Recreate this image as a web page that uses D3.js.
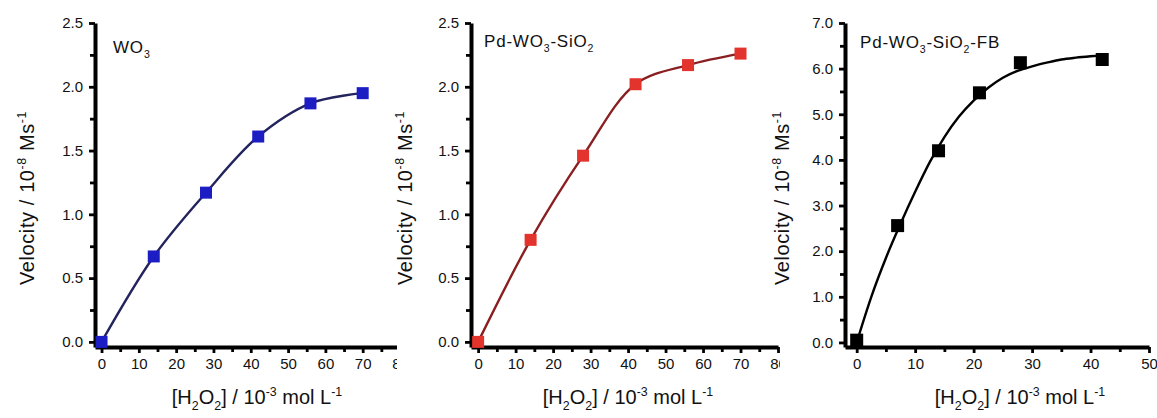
<!DOCTYPE html>
<html>
<head>
<meta charset="utf-8">
<script src="https://cdn.jsdelivr.net/npm/d3@7"></script>
<style>
  body { margin: 0; background: #fff; }
  text { font-family: "Liberation Sans", Arial, sans-serif; }
</style>
</head>
<body>
<script>
const W = 1157, H = 418;

// WO3
const wo3X = [0, 14, 28, 42, 56, 70];
const wo3Y = [0.0, 0.67, 1.17, 1.61, 1.87, 1.95];

// Pd-WO3-SiO2
const pdX = [0, 14, 28, 42, 56, 70];
const pdY = [0.0, 0.80, 1.46, 2.02, 2.17, 2.26];

// Pd-WO3-SiO2-FB (points + fitted curve)
const fbX = [0, 7, 14, 21, 28, 42];
const fbY = [0.05, 2.56, 4.20, 5.47, 6.13, 6.20];
const fbFitX = [0, 2.5, 5, 7.5, 10, 12.5, 15, 17.5, 20, 22.5, 25, 27.5, 30, 32.5, 35, 37.5, 40, 42];
const fbFitY = [0.0, 1.0, 1.85, 2.6, 3.3, 3.95, 4.5, 4.95, 5.3, 5.58, 5.8, 5.95, 6.05, 6.13, 6.2, 6.24, 6.27, 6.29];

// ticks
const xTicks80 = [0, 10, 20, 30, 40, 50, 60, 70, 80];
const xMinor80 = [5, 15, 25, 35, 45, 55, 65, 75];
const xTicks50 = [0, 10, 20, 30, 40, 50];
const xMinor50 = [5, 15, 25, 35, 45];
const yTicks25 = [0, 0.5, 1.0, 1.5, 2.0, 2.5];
const yMinor25 = [0.25, 0.75, 1.25, 1.75, 2.25];
const yTicks7 = [0, 1, 2, 3, 4, 5, 6, 7];
const yMinor7 = [0.5, 1.5, 2.5, 3.5, 4.5, 5.5, 6.5];

const svg = d3.select("body").append("svg")
    .attr("width", W)
    .attr("height", H)
    .style("display", "block");

const panels = [
  { bgX: 0, left: 95, right: 400, top: 23, bottom: 347,
    xDomain: [-1.75, 80], yDomain: [-0.04, 2.5],
    xTicks: xTicks80, xMinor: xMinor80, yTicks: yTicks25, yMinor: yMinor25,
    xs: wo3X, ys: wo3Y, fitX: null, fitY: null,
    line: "#23235e", marker: "#1d1dc4", msize: 12,
    title: [["WO", 0], ["3", 1]], titleX: 113, titleY: 53,
    xLabelX: 257, yLabelX: 27 },
  { bgX: 397, left: 471, right: 778, top: 23, bottom: 347,
    xDomain: [-1.9, 80], yDomain: [-0.04, 2.5],
    xTicks: xTicks80, xMinor: xMinor80, yTicks: yTicks25, yMinor: yMinor25,
    xs: pdX, ys: pdY, fitX: null, fitY: null,
    line: "#8a1f22", marker: "#e2332c", msize: 12,
    title: [["Pd-WO", 0], ["3", 1], ["-SiO", 0], ["2", 1]], titleX: 484, titleY: 47,
    xLabelX: 628, yLabelX: 405 },
  { bgX: 780, left: 845, right: 1149, top: 23, bottom: 347,
    xDomain: [-2, 50], yDomain: [-0.1, 7.0],
    xTicks: xTicks50, xMinor: xMinor50, yTicks: yTicks7, yMinor: yMinor7,
    xs: fbX, ys: fbY, fitX: fbFitX, fitY: fbFitY,
    line: "#000", marker: "#000", msize: 13,
    title: [["Pd-WO", 0], ["3", 1], ["-SiO", 0], ["2", 1], ["-FB", 0]], titleX: 860, titleY: 48,
    xLabelX: 1020, yLabelX: 782 }
];

// mode 0 normal, 1 subscript, 2 superscript
function addRich(text, parts, size) {
  let shift = 0;
  parts.forEach(([s, mode]) => {
    const target = mode === 1 ? size * 0.32 : mode === 2 ? -size * 0.42 : 0;
    const t = text.append("tspan").text(s).attr("dy", target - shift);
    if (mode) t.attr("font-size", size * 0.62);
    shift = target;
  });
}

function drawPanel(p) {
  const g = svg.append("g");
  g.append("rect")
      .attr("x", p.bgX).attr("y", 0)
      .attr("width", W - p.bgX).attr("height", H)
      .attr("fill", "#fff");

  const x = d3.scaleLinear().domain(p.xDomain).range([p.left, p.right]);
  const y = d3.scaleLinear().domain(p.yDomain).range([p.bottom, p.top]);

  // minor ticks
  g.append("g")
      .attr("transform", `translate(0,${p.bottom})`)
      .call(d3.axisBottom(x).tickValues(p.xMinor).tickSize(5).tickSizeOuter(0).tickFormat(""))
      .call(a => a.select(".domain").remove());
  g.append("g")
      .attr("transform", `translate(${p.left},0)`)
      .call(d3.axisLeft(y).tickValues(p.yMinor).tickSize(5).tickSizeOuter(0).tickFormat(""))
      .call(a => a.select(".domain").remove());

  // major axes
  const xa = g.append("g")
      .attr("transform", `translate(0,${p.bottom})`)
      .call(d3.axisBottom(x).tickValues(p.xTicks).tickSize(6).tickSizeOuter(0).tickPadding(5));
  const ya = g.append("g")
      .attr("transform", `translate(${p.left},0)`)
      .call(d3.axisLeft(y).tickValues(p.yTicks).tickSize(6).tickSizeOuter(0).tickPadding(6)
            .tickFormat(d3.format(".1f")));

  g.selectAll(".tick line").style("stroke", "#000").style("stroke-width", "2.8px");
  [xa, ya].forEach(a => {
    a.select(".domain").style("stroke", "#000").style("stroke-width", "4px");
    a.selectAll("text").attr("font-size", 15).attr("fill", "#111")
        .style("font-family", '"Liberation Sans", Arial, sans-serif');
  });

  // curve
  const line = d3.line().x(d => x(d[0])).y(d => y(d[1]));
  let curvePts, curveType;
  if (p.fitX) {
    curvePts = d3.zip(p.fitX, p.fitY);
    curveType = d3.curveMonotoneX;
  } else {
    curvePts = d3.zip(p.xs, p.ys);
    curveType = d3.curveCatmullRom.alpha(0.5);
  }
  g.append("path")
      .datum(curvePts)
      .attr("d", line.curve(curveType))
      .attr("fill", "none")
      .attr("stroke", p.line)
      .attr("stroke-width", 2.4);

  // markers
  g.selectAll("rect.pt")
      .data(d3.zip(p.xs, p.ys))
      .join("rect")
      .attr("class", "pt")
      .attr("x", d => x(d[0]) - p.msize / 2)
      .attr("y", d => y(d[1]) - p.msize / 2)
      .attr("width", p.msize)
      .attr("height", p.msize)
      .attr("fill", p.marker);

  // title
  const t = g.append("text")
      .attr("x", p.titleX).attr("y", p.titleY)
      .attr("font-size", 17).attr("letter-spacing", 0.8).attr("fill", "#111");
  addRich(t, p.title, 17);

  // x label
  const xl = g.append("text")
      .attr("x", p.xLabelX).attr("y", 404)
      .attr("text-anchor", "middle")
      .attr("font-size", 20).attr("fill", "#111");
  addRich(xl, [["[H", 0], ["2", 1], ["O", 0], ["2", 1], ["] / 10", 0], ["-3", 2], [" mol L", 0], ["-1", 2]], 20);

  // y label
  const yl = g.append("text")
      .attr("transform", `translate(${p.yLabelX + 7},198) rotate(-90)`)
      .attr("text-anchor", "middle")
      .attr("font-size", 20).attr("letter-spacing", 0.6).attr("fill", "#111");
  addRich(yl, [["Velocity / 10", 0], ["-8", 2], [" Ms", 0], ["-1", 2]], 20);
}

panels.forEach(drawPanel);
</script>
</body>
</html>
